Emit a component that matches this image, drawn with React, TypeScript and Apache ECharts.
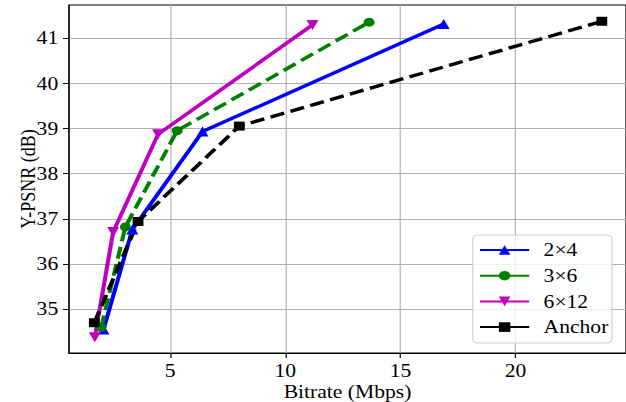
import React, { useEffect, useRef } from "react";
import * as echarts from "echarts";

// Series names
const seriesNames = ["2×4", "3×6", "6×12", "Anchor"];

// Bitrate (Mbps) and Y-PSNR (dB) per configuration
const bitrate2x4 = [2.1, 3.35, 6.4, 16.88];
const psnr2x4 = [34.55, 36.76, 38.93, 41.31];

const bitrate3x6 = [2.0, 3.05, 5.3, 13.64];
const psnr3x6 = [34.6, 36.82, 38.95, 41.35];

const bitrate6x12 = [1.72, 2.52, 4.47, 11.18];
const psnr6x12 = [34.38, 36.71, 38.87, 41.29];

const bitrateAnchor = [1.7, 3.6, 8.0, 23.75];
const psnrAnchor = [34.7, 36.94, 39.05, 41.37];

// Tick labels
const xTicks = [5, 10, 15, 20];
const yTicks = [35, 36, 37, 38, 39, 40, 41];

const STRETCH = 1.2;
const FULL_W = 626;
const H = 402;
const W = FULL_W / STRETCH;
const FONT = "'Liberation Serif', 'Times New Roman', serif";

const zip = (xs: number[], ys: number[]) => xs.map((x, i) => [x, ys[i]]);

export default function App() {
  const ref = useRef<HTMLDivElement>(null);

  useEffect(() => {
    if (!ref.current) return;
    const chart = echarts.init(ref.current, null, { renderer: "svg", width: W, height: H });

    const mk = (
      name: string,
      xs: number[],
      ys: number[],
      color: string,
      symbol: string,
      symbolSize: number,
      dashed: boolean,
      rotate = 0
    ) => ({
      name,
      type: "line",
      data: zip(xs, ys),
      symbol,
      symbolSize,
      symbolRotate: rotate,
      showSymbol: true,
      lineStyle: { color, width: 3.4, type: dashed ? [12, 5.5] : "solid" },
      itemStyle: { color },
      emphasis: { disabled: true },
      silent: true,
    });

    chart.setOption({
      animation: false,
      backgroundColor: "#fff",
      textStyle: { fontFamily: FONT },
      grid: {
        left: 57.5,
        right: 0,
        top: 5,
        bottom: 49,
        containLabel: false,
        outerBoundsMode: "none",
        show: true,
        borderColor: "#000",
        borderWidth: 1,
        backgroundColor: "transparent",
      },
      xAxis: {
        type: "value",
        min: 0.6,
        max: 24.8,
        name: "Bitrate (Mbps)",
        nameLocation: "middle",
        nameGap: 30,
        nameMoveOverlap: false,
        nameTextStyle: { fontFamily: FONT, fontSize: 18, color: "#000" },
        axisLine: { show: true, lineStyle: { color: "#000", width: 1 } },
        axisTick: { show: true, length: 5, customValues: xTicks, lineStyle: { color: "#000" } },
        axisLabel: { customValues: xTicks, fontFamily: FONT, fontSize: 18, color: "#000", margin: 9 },
        splitLine: { show: true, lineStyle: { color: "#b0b0b0", width: 1 } },
      },
      yAxis: {
        type: "value",
        min: 34.03,
        max: 41.73,
        name: "Y-PSNR (dB)",
        nameLocation: "middle",
        nameGap: 26,
        nameMoveOverlap: false,
        nameTextStyle: { fontFamily: FONT, fontSize: 18, color: "#000" },
        axisLine: { show: true, lineStyle: { color: "#000", width: 1 } },
        axisTick: { show: true, length: 5, customValues: yTicks, lineStyle: { color: "#000" } },
        axisLabel: { customValues: yTicks, fontFamily: FONT, fontSize: 18, color: "#000", margin: 9 },
        splitLine: { show: true, lineStyle: { color: "#b0b0b0", width: 1 } },
      },
      legend: {
        orient: "vertical",
        left: 394,
        top: 235,
        padding: [6, 3, 7, 5],
        itemGap: 7.7,
        itemWidth: 41,
        itemHeight: 12,
        backgroundColor: "rgba(255,255,255,0.8)",
        borderColor: "#d0d0d0",
        borderWidth: 1,
        borderRadius: 4,
        textStyle: { fontFamily: FONT, fontSize: 18, color: "#000", padding: [0, 0, 0, 7] },
        lineStyle: { type: "solid" },
        data: seriesNames,
      },
      series: [
        mk(seriesNames[0], bitrate2x4, psnr2x4, "#0000ff", "triangle", 10, false),
        mk(seriesNames[1], bitrate3x6, psnr3x6, "#008000", "circle", 9, true),
        mk(seriesNames[2], bitrate6x12, psnr6x12, "#bf00bf", "triangle", 10, false, 180),
        mk(seriesNames[3], bitrateAnchor, psnrAnchor, "#000000", "rect", 9, true),
      ],
    });

    return () => chart.dispose();
  }, []);

  return (
    <div
      style={{
        position: "fixed",
        left: 0,
        top: 0,
        width: FULL_W,
        height: H,
        overflow: "hidden",
        background: "#fff",
      }}
    >
      <div
        ref={ref}
        style={{ width: W, height: H, transform: `scaleX(${STRETCH})`, transformOrigin: "0 0" }}
      />
    </div>
  );
}
